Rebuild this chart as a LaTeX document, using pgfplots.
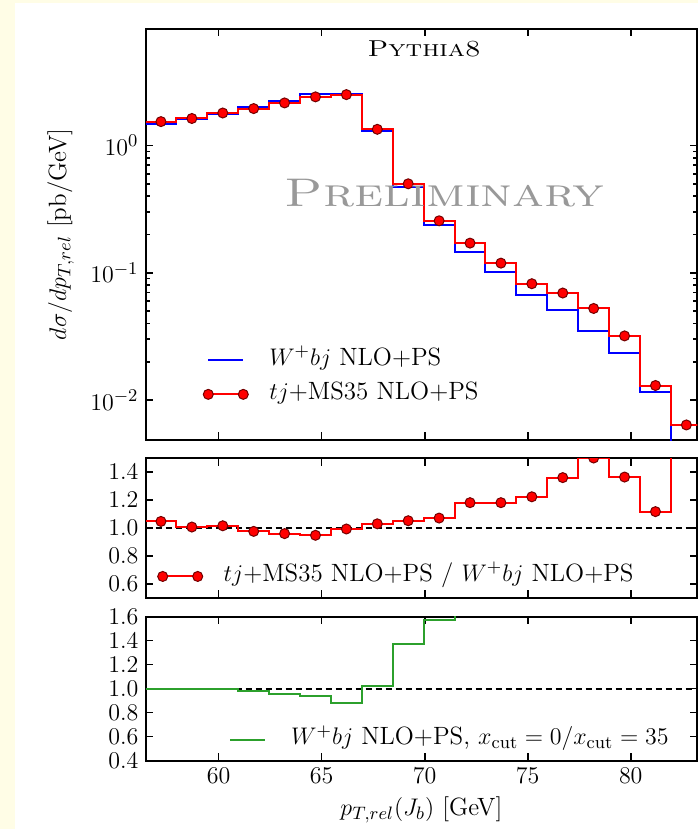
\documentclass[border=0pt]{standalone}
\usepackage{pgfplots}
\pgfplotsset{compat=1.18}
\definecolor{slidebg}{RGB}{255,253,230}
\definecolor{mpgreen}{RGB}{44,160,44}
\definecolor{prelim}{gray}{0.6}
\newcommand{\fs}{\fontsize{12.5}{14}\selectfont}

\pgfplotsset{
  panel/.style={
    scale only axis, width=275.9pt,
    xmin=56.45, xmax=83.23,
    xtick={60,65,70,75,80},
    axis line style={line width=1pt},
    tick style={black, line width=0.8pt},
    major tick length=3.8pt, minor tick length=2pt,
    tick label style={font=\fs},
    label style={font=\fs},
    legend style={draw=none, fill=none, font=\fs, anchor=north west, inner sep=0pt, row sep=2pt,
      nodes={inner sep=2pt, text height=8pt, text depth=3pt}},
    legend cell align=left,
    legend image code/.code={\draw[##1] plot coordinates {(0pt,0pt) (17.5pt,0pt)}; \path[draw=none, fill=none] (0pt,0pt) -- (28.5pt,0pt);},
    clip mode=individual,
    clip marker paths=true,
  },
  steps/.style={const plot mark left, line width=1pt, mark=none},
  dots/.style={only marks, mark=*, mark size=2.5pt, mark options={solid, fill=red, draw=red!45!black, line width=0.5pt}},
  redleg/.style={red, line width=1pt, mark=*, mark size=2.5pt, mark options={solid, fill=red, draw=red!45!black, line width=0.5pt}},
  unity/.style={black, line width=1pt, dash pattern=on 3pt off 2pt, forget plot},
}

\begin{document}
\begin{tikzpicture}
\fill[slidebg] (0pt,0pt) rectangle (349pt,-414.5pt);
\fill[white] (7.5pt,-1.75pt) rectangle (349pt,-414.5pt);
\begin{scope}
\clip (0pt,0pt) rectangle (349pt,-414.5pt);

% spectrum
\begin{axis}[panel, at={(72.75pt,-220pt)}, anchor=south west, height=205.75pt,
  ymode=log, ymin=0.00485, ymax=8.3, ytick={0.01,0.1,1},
  xticklabels={},
  legend style={at={(axis description cs:0.104,0.231)}},
]
\addplot[steps, blue, forget plot] coordinates {(56.45,1.47) (57.95,1.62) (59.45,1.77) (60.95,2.00) (62.45,2.25) (63.95,2.54) (65.45,2.53) (66.95,1.30) (68.45,0.475) (69.95,0.239) (71.45,0.145) (72.95,0.101) (74.45,0.067) (75.95,0.051) (77.45,0.0349) (78.95,0.0234) (80.45,0.01164) (81.95,0.001) (83.45,0.001)};
\addplot[steps, red, forget plot] coordinates {(56.45,1.54) (57.95,1.63) (59.45,1.80) (60.95,1.95) (62.45,2.16) (63.95,2.41) (65.45,2.51) (66.95,1.34) (68.45,0.50) (69.95,0.256) (71.45,0.171) (72.95,0.119) (74.45,0.082) (75.95,0.0693) (77.45,0.0524) (78.95,0.0319) (80.45,0.0130) (81.95,0.00637) (83.45,0.00637)};
\addplot[dots, forget plot] coordinates {(57.2,1.54) (58.7,1.63) (60.2,1.80) (61.7,1.95) (63.2,2.16) (64.7,2.41) (66.2,2.51) (67.7,1.34) (69.2,0.50) (70.7,0.256) (72.2,0.171) (73.7,0.119) (75.2,0.082) (76.7,0.0693) (78.2,0.0524) (79.7,0.0319) (81.2,0.0130) (82.7,0.00637)};
\addlegendimage{blue, line width=1pt}
\addlegendentry{$W^+bj$ NLO+PS}
\addlegendimage{redleg}
\addlegendentry{$tj$+MS35 NLO+PS}
\node[rotate=90, anchor=center, font=\fs] at (axis description cs:-0.154,0.5) {$d\sigma/dp_{T,rel}$ [pb/GeV]};
\node[anchor=north, inner sep=0pt, font=\fontsize{11.5}{13}\selectfont, xscale=1.22, yshift=-5.75pt] at (axis description cs:0.505,1) {\textsc{Pythia8}};
\node[anchor=base, inner sep=0pt, text=prelim, font=\fontsize{20}{22}\selectfont, xscale=1.3] at (axis description cs:0.542,0.567) {\textsc{Preliminary}};
\end{axis}

% ratio tj / Wbj
\begin{axis}[panel, at={(72.75pt,-299pt)}, anchor=south west, height=70pt,
  ymin=0.5, ymax=1.5, ytick={0.6,0.8,1.0,1.2,1.4},
  yticklabel style={/pgf/number format/.cd, fixed, fixed zerofill, precision=1},
  xticklabels={},
  legend style={at={(axis description cs:0.0214,0.264)}},
]
\addplot[unity] coordinates {(56.45,1) (83.45,1)};
\addplot[steps, red, forget plot] coordinates {(56.45,1.047) (57.95,1.007) (59.45,1.016) (60.95,0.976) (62.45,0.960) (63.95,0.948) (65.45,0.993) (66.95,1.030) (68.45,1.052) (69.95,1.071) (71.45,1.181) (72.95,1.181) (74.45,1.223) (75.95,1.360) (77.45,1.500) (78.95,1.364) (80.45,1.117) (81.95,6.4) (83.45,6.4)};
\addplot[dots, forget plot] coordinates {(57.2,1.047) (58.7,1.007) (60.2,1.016) (61.7,0.976) (63.2,0.960) (64.7,0.948) (66.2,0.993) (67.7,1.030) (69.2,1.052) (70.7,1.071) (72.2,1.181) (73.7,1.181) (75.2,1.223) (76.7,1.360) (78.2,1.500) (79.7,1.364) (81.2,1.117) (82.7,6.4)};
\addlegendimage{redleg}
\addlegendentry{$tj$+MS35 NLO+PS / $W^+bj$ NLO+PS}
\end{axis}

% ratio xcut
\begin{axis}[panel, at={(72.75pt,-380.25pt)}, anchor=south west, height=72pt,
  ymin=0.4, ymax=1.6, ytick={0.4,0.6,0.8,1.0,1.2,1.4,1.6},
  yticklabel style={/pgf/number format/.cd, fixed, fixed zerofill, precision=1},
  legend style={at={(axis description cs:0.151,0.251)}},
]
\addplot[unity] coordinates {(56.45,1) (83.45,1)};
\addplot[steps, mpgreen, forget plot] coordinates {(56.45,1.0) (57.95,1.0) (59.45,1.0) (60.95,0.979) (62.45,0.957) (63.95,0.937) (65.45,0.880) (66.95,1.017) (68.45,1.37) (69.95,1.57) (71.45,1.9) (72.95,2.2) (74.45,2.4) (75.95,2.6) (77.45,3.0) (78.95,2.8) (80.45,2.5) (81.95,3.0) (83.45,3.0)};
\addlegendimage{mpgreen, line width=1pt}
\addlegendentry{$W^+bj$ NLO+PS, $x_{\rm cut}=0/x_{\rm cut}=35$}
\node[anchor=center, font=\fs, yshift=-24.5pt] at (axis description cs:0.5,0) {$p_{T,rel}(J_b)$ [GeV]};
\end{axis}
\end{scope}
\pgfresetboundingbox
\useasboundingbox (0pt,0pt) rectangle (349pt,-414.5pt);
\end{tikzpicture}
\end{document}
